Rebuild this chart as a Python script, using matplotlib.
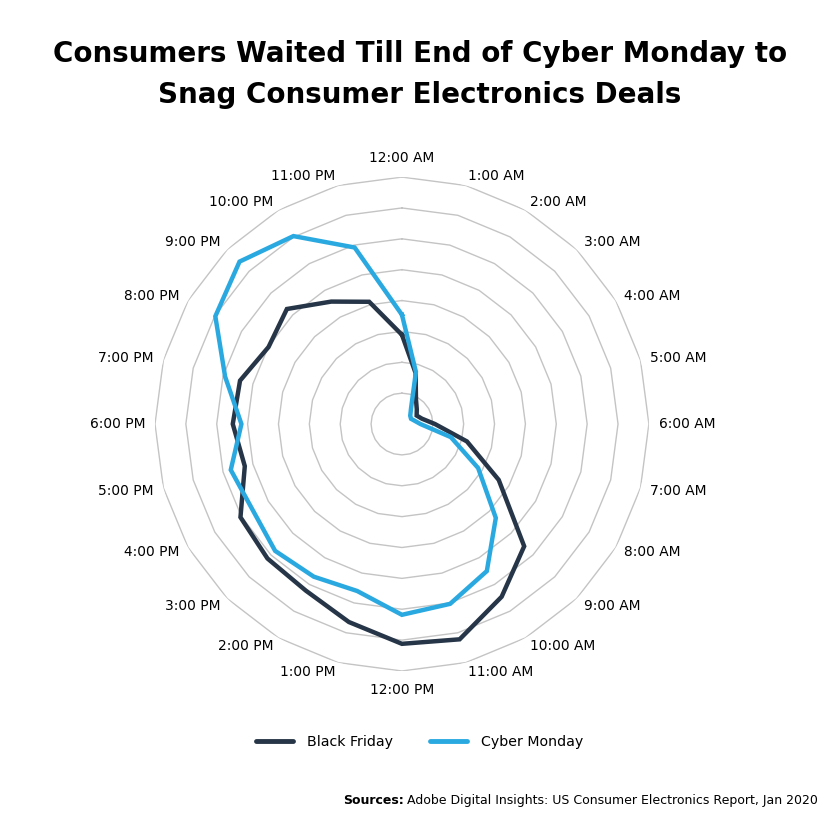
import matplotlib.pyplot as plt
import numpy as np

hours = ["12:00 AM", "1:00 AM", "2:00 AM", "3:00 AM", "4:00 AM", "5:00 AM",
         "6:00 AM", "7:00 AM", "8:00 AM", "9:00 AM", "10:00 AM", "11:00 AM",
         "12:00 PM", "1:00 PM", "2:00 PM", "3:00 PM", "4:00 PM", "5:00 PM",
         "6:00 PM", "7:00 PM", "8:00 PM", "9:00 PM", "10:00 PM", "11:00 PM"]

black_friday = [2.89, 1.71, 0.91, 0.68, 0.55, 0.67, 1.07, 2.18, 3.62, 5.60, 6.46, 7.22,
                7.12, 6.64, 6.23, 6.16, 6.04, 5.27, 5.48, 5.43, 4.99, 5.27, 4.58, 4.10]
cyber_monday = [3.54, 1.75, 0.59, 0.38, 0.34, 0.42, 0.60, 1.64, 2.85, 4.30, 5.50, 6.03,
                6.18, 5.60, 5.71, 5.81, 5.58, 5.74, 5.20, 5.93, 6.98, 7.44, 7.03, 5.92]

rings = [1, 2, 3, 4, 5, 6, 7, 8]

dark = "#263547"
blue = "#2aa9e0"
font = "DejaVu Sans"

fig = plt.figure(figsize=(8.4, 8.4), dpi=100)
ax = fig.add_axes([0.1845, 0.2012, 0.588, 0.588], polar=True)
ax.set_theta_zero_location("N")
ax.set_theta_direction(-1)

n = len(hours)
theta = np.linspace(0, 2 * np.pi, n, endpoint=False)
tc = np.append(theta, theta[0])

# polygon grid rings
for r in rings:
    ax.plot(tc, [r] * (n + 1), color="#c4c4c4", lw=1.0, zorder=1)

ax.plot(tc, black_friday + black_friday[:1], color=dark, lw=3.2,
        solid_joinstyle="miter", label="Black Friday", zorder=3)
ax.plot(tc, cyber_monday + cyber_monday[:1], color=blue, lw=3.2,
        solid_joinstyle="miter", label="Cyber Monday", zorder=4)

ax.set_ylim(0, 8)
ax.grid(False)
ax.set_xticks([])
ax.set_yticks([])
ax.spines["polar"].set_visible(False)
ax.patch.set_visible(False)

for t, lab in zip(theta, hours):
    s = np.sin(t)
    if abs(s) < 1e-6:
        if np.cos(t) > 0:
            ax.text(t, 8.4, lab, ha="center", va="bottom", fontsize=9.9, family=font)
        else:
            ax.text(t, 8.4, lab, ha="center", va="top", fontsize=9.9, family=font)
    else:
        ax.text(t, 8.32, lab, ha="left" if s > 0 else "right", va="center",
                fontsize=9.9, family=font)

fig.text(0.5, 0.911, "Consumers Waited Till End of Cyber Monday to\nSnag Consumer Electronics Deals",
         ha="center", va="center", fontsize=20, fontweight="bold", family=font,
         linespacing=1.6)

leg = fig.legend(loc="center", bbox_to_anchor=(0.5, 0.117), ncol=2, frameon=False,
                 handlelength=2.6, columnspacing=2.6, handletextpad=1.0,
                 prop={"family": font, "size": 10.2})
for h in leg.get_lines():
    h.set_linewidth(3.5)
    h.set_solid_capstyle("round")

src = fig.text(0.974, 0.047, "Adobe Digital Insights: US Consumer Electronics Report, Jan 2020",
               ha="right", va="center", fontsize=9.0, family=font)
fig.canvas.draw()
bb = src.get_window_extent()
x0 = bb.x0 / fig.bbox.width
fig.text(x0 - 0.004, 0.047, "Sources:", ha="right", va="center", fontsize=9.0,
         fontweight="bold", family=font)

fig.savefig("out.png", dpi=100, facecolor="white")
